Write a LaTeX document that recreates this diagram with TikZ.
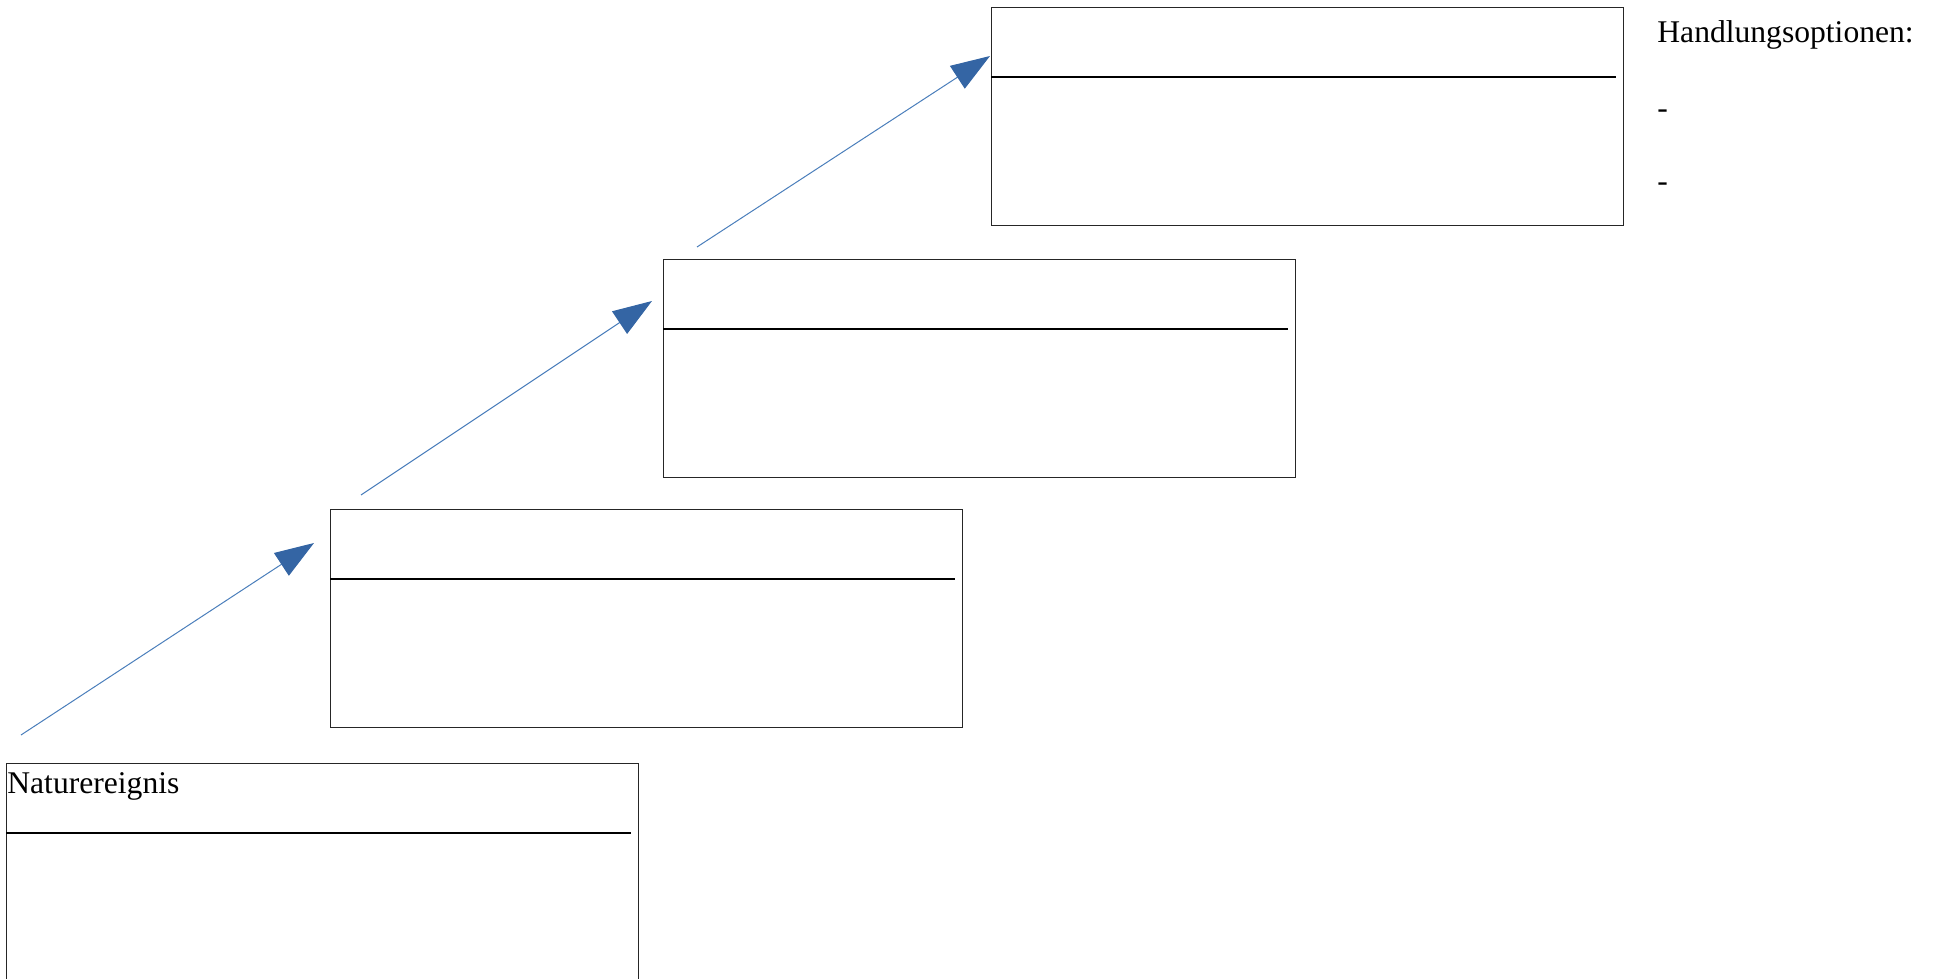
\documentclass[tikz,border=0pt]{standalone}
\usepackage{fontspec}
\setmainfont{Liberation Serif}
\usetikzlibrary{arrows.meta,calc}
\definecolor{linienblau}{HTML}{4A7EBB}
\definecolor{spitzenblau}{HTML}{3465A4}

\begin{document}
\begin{tikzpicture}[x=0.5pt, y=-0.5pt,
		kasten/.style={draw=black!85, line width=0.5pt, minimum width=316pt, minimum height=109pt, anchor=north west, inner sep=0pt},
		pfeil/.style={draw=linienblau, line width=0.5pt, -{Triangle[length=19.5pt, width=13.5pt, color=spitzenblau]}},
		schrift/.style={anchor=base west, inner sep=0pt, font=\fontsize{15.8pt}{19pt}\selectfont}]
		\clip (0, 0) rectangle (1940, 979);

		\node[kasten] (k1) at (6, 763) {};
		\node[kasten] (k2) at (330, 509) {};
		\node[kasten] (k3) at (663, 259) {};
		\node[kasten] (k4) at (991, 7) {};

		\foreach \k in {k1, k2, k3, k4}
			\draw [line width=0.75pt] ($(\k.north west)+(0, 70)$) -- ($(\k.north east)+(-8, 70)$);

		\node[schrift] (ereignis) at ($(k1.north west)+(1, 30)$) {Naturereignis};
		\node[schrift] (optionen) at (1657, 43) {Handlungsoptionen:};
		\node[schrift] (punkt1) at (1657, 118.5) {-};
		\node[schrift] (punkt2) at (1657, 191.5) {-};

		\coordinate (s1) at (21, 735);
		\coordinate (s2) at (361, 495);
		\coordinate (s3) at (697, 247);
		\draw [pfeil] (s1) -- ($(k2.north west)+(-16, 34)$);
		\draw [pfeil] (s2) -- ($(k3.north west)+(-11, 42)$);
		\draw [pfeil] (s3) -- ($(k4.north west)+(-1, 49)$);
	\end{tikzpicture}
\end{document}
